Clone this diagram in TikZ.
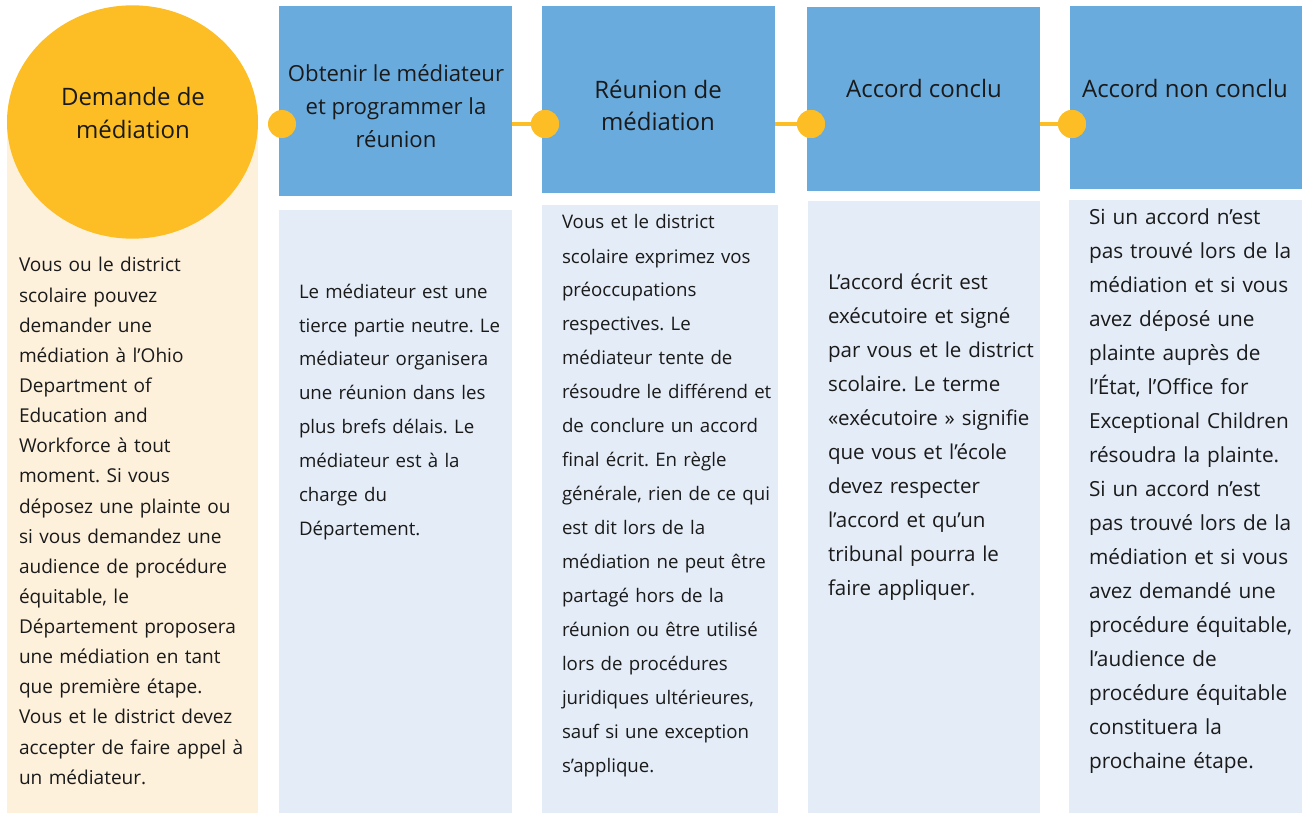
\documentclass[tikz,border=0pt]{standalone}
\usepackage{fontspec}
\setmainfont{Open Sans}
\usepackage{tikz}
\usetikzlibrary{shapes.geometric}
\frenchspacing
\definecolor{gold}{HTML}{FCBE24}
\definecolor{cream}{HTML}{FEF1DC}
\definecolor{headblue}{HTML}{6AABDE}
\definecolor{bodyblue}{HTML}{E4ECF7}
\definecolor{ink}{HTML}{1A1A1A}

\begin{document}
\begin{tikzpicture}[x=0.75pt,y=-0.75pt]
\tikzstyle{every node}=[inner sep=0pt,outer sep=0pt,text=ink];
\tikzstyle{headbox}=[rectangle,fill=headblue,minimum width=174.75pt];
\tikzstyle{bodybox}=[rectangle,fill=bodyblue];
\tikzstyle{stepdot}=[circle,fill=gold,minimum size=21pt];
\tikzstyle{steptitle}=[align=center,font=\fontsize{18}{24.5}\selectfont];
\tikzstyle{steptext}=[anchor=base west,text width=200pt,align=left,font=\fontsize{14}{25.5}\selectfont];
\tikzstyle{link}=[line width=3pt,gold];
\useasboundingbox (0,0) rectangle (1304,813);
% first step: request
\path (132.5,466.5) node[rectangle,fill=cream,minimum width=188.25pt,minimum height=519.75pt] (askbg) {};
\path (132.5,122) node[ellipse,fill=gold,minimum width=188.25pt,minimum height=175pt] (ask) {};
% headers
\path (395.5,101) node[headbox,minimum height=142.5pt] (h1) {};
\path (658.5,99.5) node[headbox,minimum height=140.25pt] (h2) {};
\path (923.5,99) node[headbox,minimum height=138pt] (h3) {};
\path (1186,97.5) node[headbox,minimum width=174pt,minimum height=137.25pt] (h4) {};
% bodies
\path (395.5,511.5) node[bodybox,minimum width=174.75pt,minimum height=452.25pt] (b1) {};
\path (660,509) node[bodybox,minimum width=177pt,minimum height=456pt] (b2) {};
\path (924,507) node[bodybox,minimum width=174pt,minimum height=459pt] (b3) {};
\path (1185.5,506.5) node[bodybox,minimum width=174.75pt,minimum height=459.75pt] (b4) {};
% timeline
\path (282,124) node[stepdot] (d1) {};
\path (545,124) node[stepdot] (d2) {};
\path (811,124) node[stepdot] (d3) {};
\path (1072,124) node[stepdot] (d4) {};
\draw[link] (h1.east |- d2) -- (d2);
\draw[link] (h2.east |- d3) -- (d3);
\draw[link] (h3.east |- d4) -- (d4);
\path (545,124) node[stepdot] {};
\path (811,124) node[stepdot] {};
\path (1072,124) node[stepdot] {};
% titles
\path (133,113) node[steptitle] (askt) {Demande de\\médiation};
\path (396,106) node[steptitle,font=\fontsize{16.6}{24.5}\selectfont] (t1) {Obtenir le médiateur\\et programmer la\\réunion};
\path (658,105.5) node[steptitle] (t2) {Réunion de\\médiation};
\path (924,89) node[steptitle] (t3) {Accord conclu};
\path (1185,89) node[steptitle] (t4) {Accord non conclu};
% texts
\path (19,272) node[steptext,font=\fontsize{14.3}{22.6}\selectfont] (c0) {Vous ou le district\\scolaire pouvez\\demander une\\médiation à l’Ohio\\Department of\\Education and\\Workforce à tout\\moment. Si vous\\déposez une plainte ou\\si vous demandez une\\audience de procédure\\équitable, le\\Département proposera\\une médiation en tant\\que première étape.\\Vous et le district devez\\accepter de faire appel à\\un médiateur.};
\path (299,298) node[steptext] (c1) {Le médiateur est une\\tierce partie neutre. Le\\médiateur organisera\\une réunion dans les\\plus brefs délais. Le\\médiateur est à la\\charge du\\Département.};
\path (562,229) node[steptext] (c2) {Vous et le district\\scolaire exprimez vos\\préoccupations\\respectives. Le\\médiateur tente de\\résoudre le différend et\\de conclure un accord\\final écrit. En règle\\générale, rien de ce qui\\est dit lors de la\\médiation ne peut être\\partagé hors de la\\réunion ou être utilisé\\lors de procédures\\juridiques ultérieures,\\sauf si une exception\\s’applique.};
\path (828,290) node[steptext,font=\fontsize{15.4}{25.5}\selectfont] (c3) {L’accord écrit est\\exécutoire et signé\\par vous et le district\\scolaire. Le terme\\«exécutoire » signifie\\que vous et l’école\\devez respecter\\l’accord et qu’un\\tribunal pourra le\\faire appliquer.};
\path (1089,225) node[steptext,font=\fontsize{15.6}{25.5}\selectfont] (c4) {Si un accord n’est\\pas trouvé lors de la\\médiation et si vous\\avez déposé une\\plainte auprès de\\l’État, l’Office for\\Exceptional Children\\résoudra la plainte.\\Si un accord n’est\\pas trouvé lors de la\\médiation et si vous\\avez demandé une\\procédure équitable,\\l’audience de\\procédure équitable\\constituera la\\prochaine étape.};
\end{tikzpicture}
\end{document}
